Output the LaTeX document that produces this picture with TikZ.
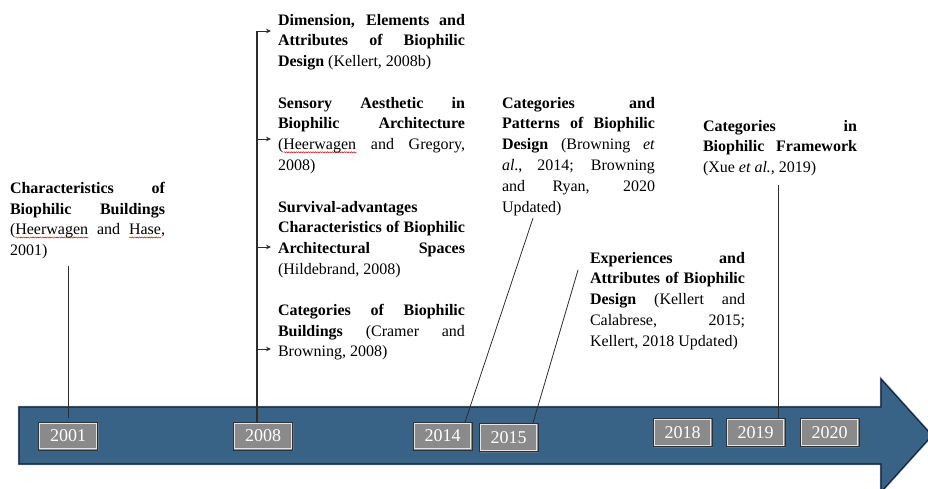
\documentclass[tikz,border=0pt]{standalone}
\usepackage{fontspec}
\setmainfont{Liberation Serif}
\usetikzlibrary{arrows.meta,decorations.pathmorphing,shadows}
\definecolor{arrowfill}{RGB}{56,98,134}
\definecolor{arrowline}{RGB}{18,32,52}
\definecolor{arrowglow}{RGB}{150,172,205}
\definecolor{boxgray}{RGB}{138,138,138}
\definecolor{boxedge}{RGB}{50,50,50}
\definecolor{linkgray}{RGB}{45,45,45}
\newlength\sqlen
\newcommand\sqw[1]{\settowidth\sqlen{#1}\rlap{\tikz[baseline=0pt]{\path (0pt,0pt); \draw[red!80!black,line width=0.45pt,decorate,decoration={snake,amplitude=0.6pt,segment length=2.4pt}] (0pt,-2.6pt) -- (\sqlen,-2.6pt);}}#1}
\newcommand\jl[2]{\makebox[#1][s]{#2}}
\begin{document}
\begin{tikzpicture}[x=1pt,y=-1pt,
  textblock/.style={anchor=north west,inner sep=0pt,outer sep=0pt,align=left,font=\fontsize{16}{20.8}\selectfont},
  yearbox/.style={fill=boxgray,draw=boxedge,line width=0.8pt,minimum width=59pt,minimum height=28pt,inner sep=0pt,text=white,
    font=\fontsize{18}{18}\selectfont,drop shadow={shadow xshift=1pt,shadow yshift=-1pt,opacity=0.55},
    path picture={\draw[white!80!gray,line width=0.7pt] ([shift={(1.3pt,-1.3pt)}]path picture bounding box.north west) rectangle ([shift={(-1.3pt,1.3pt)}]path picture bounding box.south east);}},
  link/.style={draw=linkgray,line width=0.8pt},
  branch/.style={draw=linkgray,line width=0.8pt,-{Stealth[length=5pt,width=4.5pt]}}
]
\clip (0,0) rectangle (928,488);
\fill[white] (0,0) rectangle (928,488);

% timeline arrow
\draw[arrowglow,line width=2.4pt,line join=miter] (19,407) -- (881,407) -- (881,379) -- (932,435.5) -- (881,492) -- (881,464) -- (19,464) -- cycle;
\draw[fill=arrowfill,draw=arrowline,line width=1.1pt,line join=miter] (19,407) -- (881,407) -- (881,379) -- (932,435.5) -- (881,492) -- (881,464) -- (19,464) -- cycle;

% year boxes
\node[yearbox] (y2001) at (68,436) {2001};
\node[yearbox] (y2008) at (263,436) {2008};
\node[yearbox] (y2014) at (442.5,436) {2014};
\node[yearbox] (y2015) at (508.5,437.5) {2015};
\node[yearbox] (y2018) at (682.5,432.5) {2018};
\node[yearbox] (y2019) at (755.5,432.5) {2019};
\node[yearbox] (y2020) at (829.5,432.5) {2020};

% text blocks
\node[textblock] (t2001) at (10,182) {%
\jl{155pt}{\textbf{Characteristics of}}\\
\jl{155pt}{\textbf{Biophilic Buildings}}\\
\jl{155pt}{(\sqw{Heerwagen} and \sqw{Hase},}\\
2001)};

\node[textblock] (tdim) at (278,14) {%
\jl{187pt}{\textbf{Dimension, Elements and}}\\
\jl{187pt}{\textbf{Attributes of Biophilic}}\\
\textbf{Design} (Kellert, 2008b)};

\node[textblock] (tsens) at (278,97) {%
\jl{187pt}{\textbf{Sensory Aesthetic in}}\\
\jl{187pt}{\textbf{Biophilic Architecture}}\\
\jl{187pt}{(\sqw{Heerwagen} and Gregory,}\\
2008)};

\node[textblock] (tsurv) at (278,201) {%
\textbf{Survival-advantages}\\
\jl{187pt}{\textbf{Characteristics of Biophilic}}\\
\jl{187pt}{\textbf{Architectural Spaces}}\\
(Hildebrand, 2008)};

\node[textblock] (tcat) at (278,304) {%
\jl{187pt}{\textbf{Categories of Biophilic}}\\
\jl{187pt}{\textbf{Buildings} (Cramer and}\\
Browning, 2008)};

\node[textblock] (t2014) at (502,97) {%
\jl{153pt}{\textbf{Categories and}}\\
\jl{153pt}{\textbf{Patterns of Biophilic}}\\
\jl{153pt}{\textbf{Design} (Browning \textit{et}}\\
\jl{153pt}{\textit{al}., 2014; Browning}\\
\jl{153pt}{and Ryan, 2020}\\
Updated)};

\node[textblock] (t2015) at (590,252) {%
\jl{155pt}{\textbf{Experiences and}}\\
\jl{155pt}{\textbf{Attributes of Biophilic}}\\
\jl{155pt}{\textbf{Design} (Kellert and}\\
\jl{155pt}{Calabrese, 2015;}\\
Kellert, 2018 Updated)};

\node[textblock] (t2019) at (703,120) {%
\jl{154pt}{\textbf{Categories in}}\\
\jl{154pt}{\textbf{Biophilic Framework}}\\
(Xue \textit{et al.}, 2019)};

% connectors
\coordinate (c2001top) at (68,266);
\coordinate (c2001bot) at (68,418);
\draw[link] (c2001top) -- (c2001bot);

\coordinate (trtop) at (257,31);
\coordinate (trbot) at (257,422);
\draw[link,line width=1.1pt] (trtop) -- (trbot);
\coordinate (b1) at (257,31);  \coordinate (a1) at (271,31);
\coordinate (b2) at (257,139); \coordinate (a2) at (271,139);
\coordinate (b3) at (257,247); \coordinate (a3) at (271,247);
\coordinate (b4) at (257,349); \coordinate (a4) at (271,349);
\draw[branch] (b1) -- (a1);
\draw[branch] (b2) -- (a2);
\draw[branch] (b3) -- (a3);
\draw[branch] (b4) -- (a4);

\coordinate (c2014top) at (533,218);
\coordinate (c2014bot) at (465,422);
\draw[link] (c2014top) -- (c2014bot);

\coordinate (c2015top) at (578,270);
\coordinate (c2015bot) at (533,423);
\draw[link] (c2015top) -- (c2015bot);

\coordinate (c2019top) at (778,185);
\coordinate (c2019bot) at (778,418);
\draw[link] (c2019top) -- (c2019bot);
\end{tikzpicture}
\end{document}
